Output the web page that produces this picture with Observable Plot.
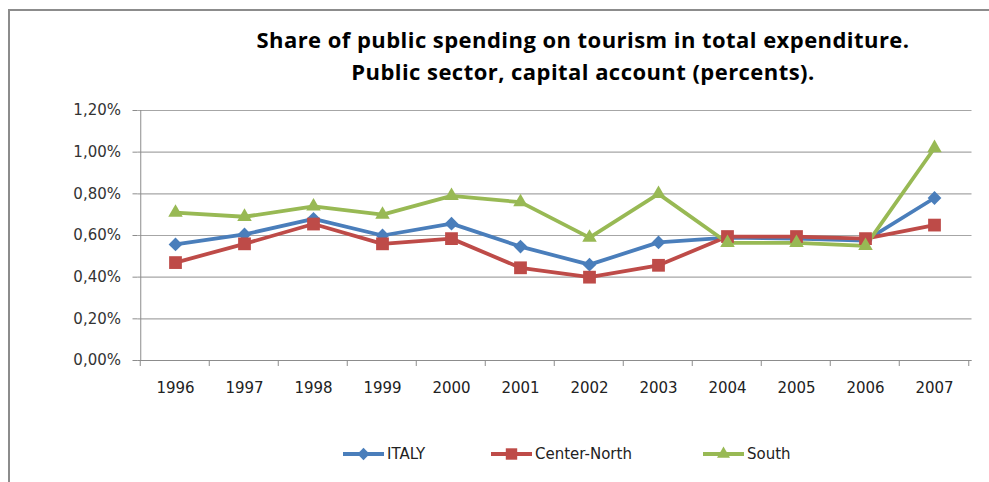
<!DOCTYPE html>
<html>
<head>
<meta charset="utf-8">
<script src="https://cdn.jsdelivr.net/npm/d3@7"></script>
<script src="https://cdn.jsdelivr.net/npm/@observablehq/plot@0.6"></script>
<style>
  html, body { margin: 0; padding: 0; background: #fff; }
  #wrap { position: relative; width: 989px; height: 482px; overflow: hidden; background: #fff; font-family: "DejaVu Sans", sans-serif; }
  #frameTop { position: absolute; left: 8px; top: 9px; width: 981px; height: 2px; background: #8c8c8c; }
  #frameLeft { position: absolute; left: 8px; top: 9px; width: 2px; height: 473px; background: #8c8c8c; }
  #title { position: absolute; left: 150px; width: 866px; top: 23px; text-align: center; font-family: "Open Sans", sans-serif; font-weight: 700; font-size: 22px; letter-spacing: 0.45px; line-height: 32px; color: #000; }
  #chart { position: absolute; left: 0; top: 90px; }
  #legend { position: absolute; top: 443px; left: 0; width: 989px; height: 22px; font-family: "DejaVu Sans", sans-serif; font-size: 15px; color: #222; }
  .item { position: absolute; top: 0; height: 22px; display: flex; align-items: center; }
  .item svg { display: block; margin-right: 3px; }
</style>
</head>
<body>
<div id="wrap">
  <div id="frameTop"></div>
  <div id="frameLeft"></div>
  <div id="title">Share of public spending on tourism in total expenditure.<br>Public sector, capital account (percents).</div>
  <div id="chart"></div>
  <div id="legend"></div>
</div>
<script>
const years = ["1996","1997","1998","1999","2000","2001","2002","2003","2004","2005","2006","2007"];
const italy = [0.557, 0.605, 0.68, 0.60, 0.657, 0.547, 0.46, 0.567, 0.59, 0.585, 0.575, 0.78];
const centerNorth = [0.47, 0.56, 0.655, 0.56, 0.585, 0.445, 0.40, 0.457, 0.595, 0.595, 0.585, 0.65];
const south = [0.71, 0.69, 0.74, 0.70, 0.79, 0.76, 0.59, 0.80, 0.565, 0.565, 0.55, 1.02];
const yTicks = [0, 0.2, 0.4, 0.6, 0.8, 1.0, 1.2];
const seriesNames = ["ITALY", "Center-North", "South"];
const seriesColors = ["#4a7ebb", "#be4b48", "#98b954"];
const seriesSymbols = ["diamond2", "square", "triangle"];
const seriesR = [6.2, 7.2, 5.4];

const values = [italy, centerNorth, south];
const data = [];
seriesNames.forEach((s, i) => years.forEach((y, j) => data.push({series: s, year: y, value: values[i][j]})));

const fmt = v => v.toFixed(2).replace(".", ",") + "%";
const half = 34.75;

const marks = [
  Plot.gridY(yTicks, {stroke: "#a6a6a6", strokeOpacity: 1, strokeWidth: 1.2}),
  Plot.axisY(yTicks, {tickSize: 5, tickPadding: 12, tickFormat: fmt, stroke: "#8c8c8c", fontSize: 15, fill: "#333", label: null}),
  Plot.ruleX([years[0]], {stroke: "#8c8c8c", dx: -half, y1: 0, y2: 1.2}),
  Plot.ruleY([0], {stroke: "#8c8c8c"}),
  Plot.axisX({tickSize: 0, tickPadding: 22, fontSize: 15, fill: "#222", label: null})
];

seriesNames.forEach((s, i) => {
  const d = data.filter(r => r.series === s);
  marks.push(Plot.line(d, {x: "year", y: "value", stroke: seriesColors[i], strokeWidth: 3.8, strokeLinejoin: "round"}));
});
seriesNames.forEach((s, i) => {
  const d = data.filter(r => r.series === s);
  marks.push(Plot.dot(d, {x: "year", y: "value", symbol: () => seriesSymbols[i], fill: seriesColors[i], stroke: "none", r: seriesR[i]}));
});

const chart = Plot.plot({
  width: 989,
  height: 320,
  marginLeft: 137.5,
  marginRight: 17.5,
  marginTop: 20,
  marginBottom: 50,
  style: {background: "transparent", fontFamily: "DejaVu Sans, sans-serif", fontSize: "15px", overflow: "visible"},
  x: {type: "point", domain: years, padding: 0.5, axis: null},
  y: {type: "linear", domain: [0, 1.2], axis: null},
  symbol: {type: "identity"},
  marks
});
document.getElementById("chart").appendChild(chart);

// category-boundary tick marks below the x axis, placed with the chart's own scales
{
  const svgns = "http://www.w3.org/2000/svg";
  const xs = chart.scale("x"), ys = chart.scale("y");
  const y0 = ys.apply(0);
  const g = document.createElementNS(svgns, "g");
  const xsPos = years.map(y => xs.apply(y) - half).concat([xs.apply(years[years.length - 1]) + half]);
  xsPos.forEach(x => {
    const ln = document.createElementNS(svgns, "line");
    ln.setAttribute("x1", x); ln.setAttribute("x2", x);
    ln.setAttribute("y1", y0); ln.setAttribute("y2", y0 + 6);
    ln.setAttribute("stroke", "#8c8c8c");
    g.appendChild(ln);
  });
  chart.insertBefore(g, chart.firstChild.nextSibling);
}

// legend
const legendPos = [343, 491, 703];
const leg = document.getElementById("legend");
seriesNames.forEach((s, i) => {
  const item = document.createElement("div");
  item.className = "item";
  item.style.left = legendPos[i] + "px";
  const sym = d3.symbol().type({diamond2: d3.symbolDiamond2, square: d3.symbolSquare, triangle: d3.symbolTriangle}[seriesSymbols[i]]).size(Math.PI * seriesR[i] * seriesR[i] * 0.8)();
  item.innerHTML = `<svg width="41" height="22"><line x1="0" x2="41" y1="11" y2="11" stroke="${seriesColors[i]}" stroke-width="3.8"/><path d="${sym}" transform="translate(20.5,11)" fill="${seriesColors[i]}"/></svg><span>${s}</span>`;
  leg.appendChild(item);
});
</script>
</body>
</html>
